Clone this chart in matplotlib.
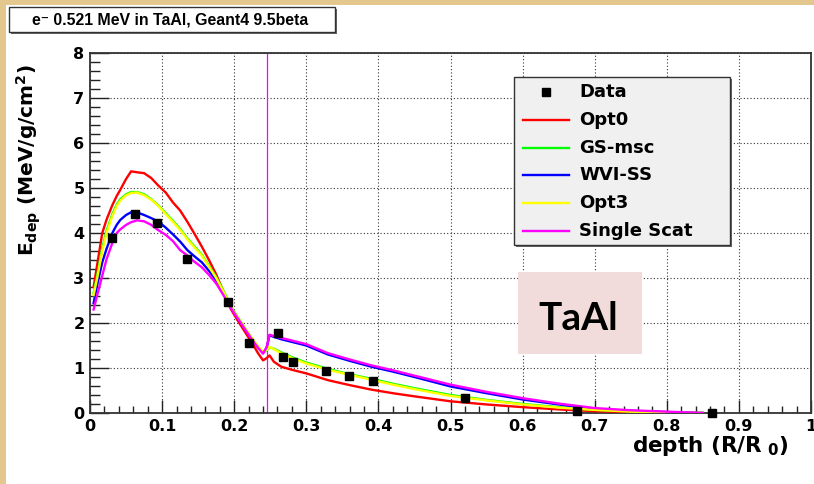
import matplotlib
matplotlib.use("Agg")
import matplotlib.pyplot as plt
from matplotlib.patches import Rectangle
from matplotlib.lines import Line2D
from matplotlib.ticker import MultipleLocator, FuncFormatter

# ---------------------------------------------------------------- data
depth = [0.005, 0.010, 0.017, 0.023, 0.031, 0.037, 0.042, 0.050, 0.057, 0.065,
         0.075, 0.085, 0.095, 0.105, 0.115, 0.125, 0.135, 0.145, 0.155, 0.165,
         0.175, 0.185, 0.195, 0.205, 0.215, 0.225, 0.233, 0.240, 0.245, 0.249,
         0.255, 0.265, 0.28, 0.30, 0.33, 0.36, 0.39, 0.42, 0.45, 0.50,
         0.55, 0.60, 0.65, 0.70, 0.75, 0.80, 0.85]

opt0 = [2.80, 3.30, 4.00, 4.30, 4.62, 4.82, 4.96, 5.20, 5.37, 5.35,
        5.33, 5.22, 5.05, 4.90, 4.68, 4.50, 4.25, 3.98, 3.70, 3.40,
        3.08, 2.70, 2.32, 2.05, 1.80, 1.55, 1.33, 1.17, 1.22, 1.28,
        1.14, 1.03, 0.96, 0.88, 0.73, 0.62, 0.52, 0.44, 0.37, 0.26,
        0.19, 0.13, 0.08, 0.04, 0.02, 0.005, 0.0]

gs_msc = [2.66, 3.06, 3.66, 4.05, 4.42, 4.63, 4.75, 4.86, 4.91, 4.91,
          4.86, 4.75, 4.61, 4.44, 4.27, 4.09, 3.88, 3.70, 3.52, 3.27,
          3.02, 2.72, 2.38, 2.13, 1.88, 1.65, 1.47, 1.35, 1.39, 1.46,
          1.43, 1.35, 1.24, 1.12, 0.98, 0.86, 0.76, 0.65, 0.55, 0.40,
          0.29, 0.20, 0.13, 0.07, 0.04, 0.01, 0.0]

wvi_ss = [2.44, 2.85, 3.35, 3.65, 4.00, 4.18, 4.29, 4.40, 4.46, 4.46,
          4.40, 4.33, 4.25, 4.12, 3.97, 3.81, 3.62, 3.48, 3.35, 3.16,
          2.94, 2.66, 2.36, 2.10, 1.86, 1.63, 1.46, 1.33, 1.45, 1.73,
          1.69, 1.64, 1.58, 1.50, 1.30, 1.16, 1.03, 0.92, 0.80, 0.59,
          0.44, 0.30, 0.19, 0.09, 0.05, 0.02, 0.0]

opt3 = [2.62, 3.00, 3.60, 4.00, 4.38, 4.60, 4.72, 4.84, 4.89, 4.90,
        4.84, 4.74, 4.60, 4.42, 4.25, 4.07, 3.86, 3.68, 3.50, 3.25,
        3.00, 2.70, 2.36, 2.12, 1.88, 1.65, 1.48, 1.36, 1.40, 1.47,
        1.42, 1.33, 1.22, 1.10, 0.96, 0.85, 0.74, 0.63, 0.53, 0.38,
        0.28, 0.19, 0.12, 0.07, 0.03, 0.01, 0.0]

single_scat = [2.30, 2.62, 3.05, 3.42, 3.78, 4.00, 4.08, 4.18, 4.24, 4.28,
               4.26, 4.18, 4.06, 3.96, 3.82, 3.62, 3.50, 3.36, 3.24, 3.07,
               2.88, 2.62, 2.34, 2.10, 1.86, 1.62, 1.45, 1.32, 1.46, 1.74,
               1.71, 1.67, 1.61, 1.53, 1.33, 1.19, 1.06, 0.95, 0.83, 0.63,
               0.47, 0.33, 0.21, 0.11, 0.06, 0.03, 0.0]

data_x = [0.031, 0.062, 0.093, 0.135, 0.191, 0.221, 0.261, 0.268, 0.282,
          0.327, 0.359, 0.393, 0.520, 0.675, 0.862]
data_y = [3.88, 4.42, 4.23, 3.43, 2.47, 1.56, 1.77, 1.24, 1.14,
          0.94, 0.82, 0.71, 0.34, 0.05, 0.0]

interface = 0.245  # Ta/Al boundary

series = [("Opt0", opt0, "#ff0000"),
          ("GS-msc", gs_msc, "#00ff00"),
          ("WVI-SS", wvi_ss, "#0000ff"),
          ("Opt3", opt3, "#ffff00"),
          ("Single Scat", single_scat, "#ff00ff")]

# ---------------------------------------------------------------- style
W, H = 814, 484
plt.rcParams["font.family"] = ["DejaVu Sans"]
plt.rcParams["font.weight"] = "bold"
plt.rcParams["mathtext.fontset"] = "custom"
plt.rcParams["mathtext.rm"] = "DejaVu Sans:bold"
plt.rcParams["mathtext.it"] = "DejaVu Sans:bold"
plt.rcParams["mathtext.bf"] = "DejaVu Sans:bold"


def fx(px):
    return px / W


def fy(py):
    return 1 - py / H


fig = plt.figure(figsize=(W / 100, H / 100), dpi=100, facecolor="#e4c78e")
# white canvas over the tan page
fig.patches.append(Rectangle((fx(6), 0), 1, fy(5), transform=fig.transFigure,
                             facecolor="white", edgecolor="none", zorder=-10))

ax = fig.add_axes([fx(90), 1 - 413 / H, (811 - 90) / W, (413 - 53) / H])
ax.set_xlim(0, 1)
ax.set_ylim(0, 8)
for s in ax.spines.values():
    s.set_linewidth(1.3)
    s.set_color("#333333")

ax.xaxis.set_major_locator(MultipleLocator(0.1))
ax.xaxis.set_minor_locator(MultipleLocator(0.02))
ax.yaxis.set_major_locator(MultipleLocator(1))
ax.yaxis.set_minor_locator(MultipleLocator(0.2))
ax.xaxis.set_major_formatter(FuncFormatter(lambda v, p: "%g" % round(v, 2)))
ax.yaxis.set_major_formatter(FuncFormatter(lambda v, p: "%g" % v))

ax.tick_params(axis="both", which="both", direction="in", top=False, right=False,
               colors="#222222", width=1.0, labelsize=11.5, labelcolor="black")
ax.tick_params(axis="x", which="major", length=9.5, pad=4.5)
ax.tick_params(axis="x", which="minor", length=5)
ax.tick_params(axis="y", which="major", length=14, pad=4)
ax.tick_params(axis="y", which="minor", length=7)
for lab in ax.get_xticklabels() + ax.get_yticklabels():
    lab.set_fontweight("bold")

ax.grid(True, which="major", linestyle=(0, (1, 2)), linewidth=0.8, color="#333333")

for name, vals, col in series:
    ax.plot(depth, vals, color=col, linewidth=1.7, zorder=3)
ax.axvline(interface, color="#ff00ff", linewidth=0.9, zorder=2)
ax.plot(data_x, data_y, linestyle="none", marker="s", markersize=6.3,
        color="black", zorder=5, clip_on=False)

# ---------------------------------------------------------------- title box
fig.patches.append(Rectangle((fx(11), fy(34)), fx(326), 25 / H,
                             transform=fig.transFigure, facecolor="#666666",
                             edgecolor="none", zorder=4))
fig.patches.append(Rectangle((fx(9), fy(32)), fx(326), 25 / H,
                             transform=fig.transFigure, facecolor="white",
                             edgecolor="#333333", linewidth=1.0, zorder=5))
fig.text(fx(32), fy(20), "e\u207b 0.521 MeV in TaAl, Geant4 9.5beta",
         fontsize=11.4, fontweight="bold", family=["Liberation Sans", "DejaVu Sans"],
         ha="left", va="center", zorder=6)

# ---------------------------------------------------------------- axis titles
fig.text(fx(29), fy(64), r"E$_{\mathbf{dep}}$ (MeV/g/cm$^{\mathbf{2}}$)",
         rotation=90, ha="center", va="top", fontsize=14.5, fontweight="bold")
fig.text(fx(789), fy(452), r"depth (R/R$\;_{\mathbf{0}}$)",
         ha="right", va="baseline", fontsize=15.5, fontweight="bold")

# ---------------------------------------------------------------- legend box
lx0, ly0, lx1, ly1 = 514, 77, 730, 245
fig.patches.append(Rectangle((fx(lx0 + 2), fy(ly1 + 2)), fx(lx1 - lx0), (ly1 - ly0) / H,
                             transform=fig.transFigure, facecolor="#666666",
                             edgecolor="none", zorder=6))
fig.patches.append(Rectangle((fx(lx0), fy(ly1)), fx(lx1 - lx0), (ly1 - ly0) / H,
                             transform=fig.transFigure, facecolor="#f0f0f0",
                             edgecolor="#333333", linewidth=1.0, zorder=7))
row_y = [92 + 27.8 * i for i in range(6)]
fig.lines.append(Line2D([fx(546)], [fy(row_y[0])], transform=fig.transFigure,
                        linestyle="none", marker="s", markersize=6, color="black",
                        zorder=8))
fig.text(fx(579), fy(row_y[0]), "Data", ha="left", va="center",
         fontsize=13, fontweight="bold", zorder=8)
for (name, vals, col), yy in zip(series, row_y[1:]):
    fig.lines.append(Line2D([fx(523), fx(569)], [fy(yy), fy(yy)],
                            transform=fig.transFigure, color=col, linewidth=1.7,
                            zorder=8))
    fig.text(fx(579), fy(yy), name, ha="left", va="center",
             fontsize=13, fontweight="bold", zorder=8)

# ---------------------------------------------------------------- material tag
fig.patches.append(Rectangle((fx(518), fy(354)), fx(642 - 518), (354 - 272) / H,
                             transform=fig.transFigure, facecolor="#f1dcdb",
                             edgecolor="none", zorder=6))
fig.text(fx(578), fy(330), "TaAl", ha="center", va="baseline", fontsize=28,
         fontweight="bold", family=["Lato", "DejaVu Sans"], zorder=7)

fig.savefig("out.png", dpi=100, facecolor=fig.get_facecolor())
